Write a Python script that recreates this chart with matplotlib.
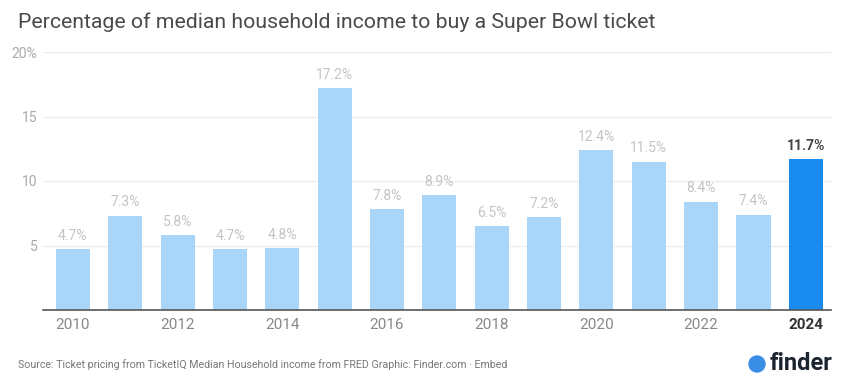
import matplotlib.pyplot as plt
from matplotlib.patches import Circle

# data
years = list(range(2010, 2025))
values = [4.7, 7.3, 5.8, 4.7, 4.8, 17.2, 7.8, 8.9, 6.5, 7.2, 12.4, 11.5, 8.4, 7.4, 11.7]
year_ticks = [2010, 2012, 2014, 2016, 2018, 2020, 2022, 2024]
y_ticks = [5, 10, 15, 20]
y_tick_labels = ["5", "10", "15", "20%"]

LIGHT = "#a9d6f8"
DARK = "#1a8cf0"

plt.rcParams['font.family'] = ['Roboto', 'DejaVu Sans']

fig = plt.figure(figsize=(8.48, 3.81), dpi=100)
ax = fig.add_axes([43 / 848, 71 / 381, (831 - 43) / 848, (310 - 52) / 381])

x = list(range(len(years)))
colors = [LIGHT] * (len(years) - 1) + [DARK]
ax.bar(x, values, width=0.65, color=colors, zorder=2)

for i, v in enumerate(values):
    last = i == len(values) - 1
    ax.text(i, v + 0.5, f"{v:.1f}%", ha="center", va="bottom",
            fontsize=10, color="#444444" if last else "#c4c4c4",
            fontweight="bold" if last else "normal")

ax.set_xlim(-0.57, 14.48)
ax.set_ylim(0, 20)

ax.set_yticks(y_ticks)
ax.set_yticklabels(y_tick_labels)
ax.set_xticks([y - 2010 for y in year_ticks])
ax.set_xticklabels([str(y) for y in year_ticks])
ax.tick_params(axis="y", length=0, pad=4, labelsize=10, labelcolor="#aaaaaa")
ax.tick_params(axis="x", length=0, pad=6, labelsize=11, labelcolor="#888888")
for lab in ax.get_xticklabels():
    if lab.get_text() == "2024":
        lab.set_fontweight("bold")
        lab.set_color("#333333")

ax.grid(axis="y", color="#ececec", linewidth=1, zorder=0)
for s in ["top", "right", "left"]:
    ax.spines[s].set_visible(False)
ax.spines["bottom"].set_color("#555555")
ax.spines["bottom"].set_linewidth(1.2)
ax.spines["bottom"].set_zorder(3)

fig.text(18 / 848, 1 - 22 / 381, "Percentage of median household income to buy a Super Bowl ticket",
         fontsize=15.3, color="#4a4a4a", va="center", ha="left")

fig.text(18 / 848, 1 - 365 / 381,
         "Source: Ticket pricing from TicketIQ Median Household income from FRED Graphic: Finder.com \u00b7 Embed",
         fontsize=7.7, color="#777777", va="center", ha="left")

# finder logo
fig.text(832 / 848, 1 - 364 / 381, "finder", fontsize=17, fontweight="bold",
         color="#1c2430", ha="right", va="center")
fig.patches.append(Circle((7.57, 3.81 - 3.64), 0.08, transform=fig.dpi_scale_trans,
                          color="#3a8ee6", figure=fig))

fig.savefig("out.png", dpi=100, facecolor="white")
